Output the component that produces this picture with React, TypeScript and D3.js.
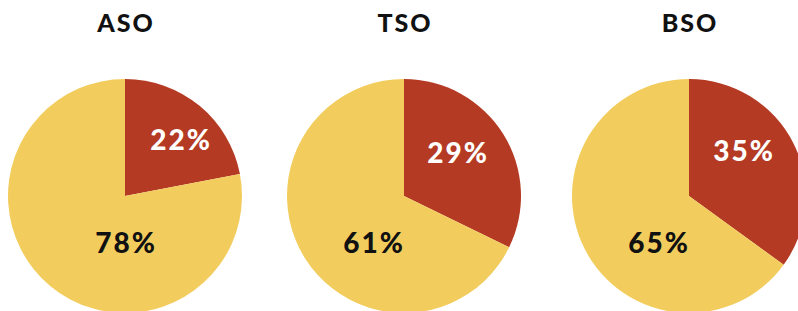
import React, { useEffect, useRef } from 'react';
import * as d3 from 'd3';

// chart data
const groups = ['ASO', 'TSO', 'BSO'];
const yesValues = [22, 29, 35];
const noValues = [78, 61, 65];

// layout
const W = 798;
const H = 311;
const centersX = [125, 404, 689];
const centerY = 196;
const radius = 117;
const red = '#b43a23';
const yellow = '#f2cd5e';
const font = 'Lato, "Open Sans", sans-serif';
// offsets of the value labels from the pie centre
const smallOff = [[56, -57], [54, -44], [55, -46]];
const bigOff = [[1, 46], [-30, 46], [-30, 46]];

export default function App() {
  const ref = useRef<SVGSVGElement>(null);

  useEffect(() => {
    const svg = d3.select(ref.current);
    svg.selectAll('*').remove();

    const pie = d3.pie<number>().sort(null).value(d => d);
    const arc = d3.arc<d3.PieArcDatum<number>>().innerRadius(0).outerRadius(radius);

    groups.forEach((name, i) => {
      const g = svg.append('g').attr('transform', `translate(${centersX[i]},${centerY})`);
      const slices = pie([yesValues[i], noValues[i]]);

      g.selectAll('path')
        .data(slices)
        .enter()
        .append('path')
        .attr('d', arc)
        .attr('fill', (d, j) => (j === 0 ? red : yellow));

      g.append('text')
        .attr('x', smallOff[i][0])
        .attr('y', smallOff[i][1])
        .attr('text-anchor', 'middle')
        .attr('dominant-baseline', 'central')
        .attr('fill', '#fff')
        .style('font', `900 28px ${font}`)
        .style('letter-spacing', '2px')
        .text(yesValues[i] + '%');

      g.append('text')
        .attr('x', bigOff[i][0])
        .attr('y', bigOff[i][1])
        .attr('text-anchor', 'middle')
        .attr('dominant-baseline', 'central')
        .attr('fill', '#111')
        .style('font', `900 28px ${font}`)
        .style('letter-spacing', '2px')
        .text(noValues[i] + '%');

      svg.append('text')
        .attr('x', centersX[i] + 1)
        .attr('y', 32)
        .attr('text-anchor', 'middle')
        .attr('fill', '#111')
        .style('font', `900 25px ${font}`)
        .style('letter-spacing', '2px')
        .text(name);
    });
  }, []);

  return (
    <div style={{ position: 'absolute', left: 0, top: 0, width: W, height: H, background: '#fff' }}>
      <svg ref={ref} width={W} height={H} style={{ display: 'block' }} />
    </div>
  );
}
